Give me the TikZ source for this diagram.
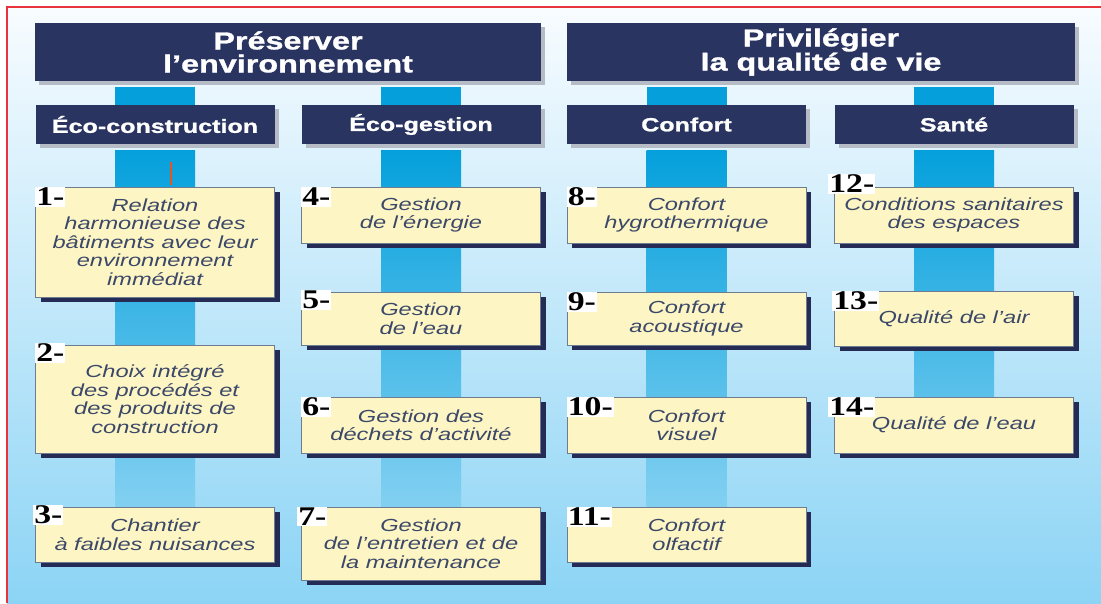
\documentclass[tikz,border=0pt]{standalone}
\usepackage{fontspec}
\usepackage{tikz}
\usetikzlibrary{calc,backgrounds,shadows}
\newfontfamily\widesans[FakeStretch=1.35]{Liberation Sans}
\newfontfamily\heavysans[FakeStretch=1.32,FakeBold=1.2]{Liberation Sans}
\newfontfamily\numserif[FakeStretch=1.25]{Liberation Serif}
\definecolor{headnavy}{HTML}{2A3461}
\definecolor{headshade}{HTML}{B5BCC6}
\definecolor{boxyellow}{HTML}{FDF6C4}
\definecolor{boxedge}{HTML}{6E7B90}
\definecolor{boxshade}{HTML}{242B55}
\definecolor{itemtext}{HTML}{3B4869}
\definecolor{bartop}{HTML}{05A0DC}
\definecolor{barbottom}{HTML}{82D0F1}
\definecolor{barmid}{HTML}{5BC1EA}
\definecolor{skytop}{HTML}{F8FCFF}
\definecolor{skybottom}{HTML}{8CD4F5}
\definecolor{framered}{HTML}{E8333C}
\definecolor{tickorange}{HTML}{E2561F}

\begin{document}
\begin{tikzpicture}[x=1pt, y=-1pt,
  headbox/.style={fill=headnavy, text=white, align=center, inner sep=0pt, minimum height=58pt,
    font=\heavysans\bfseries\fontsize{24.5}{23}\selectfont,
    drop shadow={shadow xshift=4pt, shadow yshift=-4pt, fill=headshade, opacity=1}},
  subbox/.style={fill=headnavy, text=white, inner sep=0pt, minimum width=239pt, minimum height=39pt,
    font=\heavysans\bfseries\fontsize{19}{22}\selectfont,
    drop shadow={shadow xshift=4pt, shadow yshift=-4pt, fill=headshade, opacity=1}},
  itembox/.style={fill=boxyellow, draw=boxedge, line width=0.8pt, text=itemtext, align=center,
    inner sep=0pt, minimum width=239pt, minimum height=56pt,
    font=\widesans\itshape\fontsize{17.5}{18.5}\selectfont,
    drop shadow={shadow xshift=5pt, shadow yshift=-5pt, fill=boxshade, opacity=1}},
  itemnum/.style={anchor=north west, fill=white, inner sep=1pt, text=black,
    font=\numserif\bfseries\fontsize{27}{27}\selectfont},
  barlong/.style={top color=bartop, bottom color=barbottom},
  barshort/.style={top color=bartop, bottom color=barmid}
]
\useasboundingbox (0,0) rectangle (1101,603);
% two main themes
\node[headbox, minimum width=506pt] (env) at (288,52) {Préserver\\l’environnement};
\node[headbox, minimum width=508pt] (life) at (821,52) {Privilégier\\la qualité de vie};
% families
\node[subbox] (ecocon) at (155,124.5) {Éco-construction};
\node[subbox] (ecoges) at (421,124.5) {Éco-gestion};
\node[subbox] (confort) at (686.5,124.5) {Confort};
\node[subbox] (sante) at (954,124.5) {Santé};
% targets, column 1
\node[itembox, minimum height=110pt] (t1) at (155,242) {Relation\\harmonieuse des\\bâtiments avec leur\\environnement\\immédiat};
\node[itembox, minimum height=108pt] (t2) at (155,399) {Choix intégré\\des procédés et\\des produits de\\construction};
\node[itembox, minimum height=55pt] (t3) at (155,534.5) {Chantier\\à faibles nuisances};
% column 2
\node[itembox] (t4) at (421,215) {Gestion\\de l’énergie};
\node[itembox, minimum height=53pt] (t5) at (421,318.5) {Gestion\\de l’eau};
\node[itembox] (t6) at (421,425) {Gestion des\\déchets d’activité};
\node[itembox, minimum height=73pt] (t7) at (421,543.5) {Gestion\\de l’entretien et de\\la maintenance};
% column 3
\node[itembox] (t8) at (686.5,215) {Confort\\hygrothermique};
\node[itembox, minimum height=53pt] (t9) at (686.5,318.5) {Confort\\acoustique};
\node[itembox] (t10) at (686.5,425) {Confort\\visuel};
\node[itembox, minimum height=55pt] (t11) at (686.5,534.5) {Confort\\olfactif};
% column 4
\node[itembox] (t12) at (954,215) {Conditions sanitaires\\des espaces};
\node[itembox, minimum height=55pt] (t13) at (954,318.5) {Qualité de l’air};
\node[itembox] (t14) at (954,425) {Qualité de l’eau};
% numbers
\node[itemnum] (n1) at (t1.north west) {1-};
\node[itemnum, yshift=2pt] (n2) at (t2.north west) {2-};
\node[itemnum, xshift=-2pt, yshift=2pt] (n3) at (t3.north west) {3-};
\node[itemnum] (n4) at (t4.north west) {4-};
\node[itemnum, yshift=2pt] (n5) at (t5.north west) {5-};
\node[itemnum] (n6) at (t6.north west) {6-};
\node[itemnum, xshift=-4pt] (n7) at (t7.north west) {7-};
\node[itemnum] (n8) at (t8.north west) {8-};
\node[itemnum] (n9) at (t9.north west) {9-};
\node[itemnum] (n10) at (t10.north west) {10-};
\node[itemnum] (n11) at (t11.north west) {11-};
\node[itemnum, xshift=-6pt, yshift=13pt] (n12) at (t12.north west) {12-};
\node[itemnum, xshift=-2pt] (n13) at (t13.north west) {13-};
\node[itemnum, xshift=-6pt] (n14) at (t14.north west) {14-};
\begin{scope}[on background layer]
  % sky and frame
  \fill[white] (0,0) rectangle (1101,603);
  \shade[top color=skytop, bottom color=skybottom] (7,7) rectangle (1101,603);
  \draw[framered, line width=1.5pt] (7,603) -- (7,7) -- (1101,7);
  % links theme -> family
  \fill[bartop] ($(ecocon.north)+(-40,0)$) rectangle ($(ecocon.north |- env.south)+(40,6)$);
  \fill[bartop] ($(ecoges.north)+(-40,0)$) rectangle ($(ecoges.north |- env.south)+(40,6)$);
  \fill[bartop] ($(confort.north)+(-40,0)$) rectangle ($(confort.north |- life.south)+(40,6)$);
  \fill[bartop] ($(sante.north)+(-40,0)$) rectangle ($(sante.north |- life.south)+(40,6)$);
  % links family -> targets
  \shade[barlong] ($(ecocon.south)+(-40,6)$) rectangle ($(t3.north)+(40,0)$);
  \shade[barlong] ($(ecoges.south)+(-40,6)$) rectangle ($(t7.north)+(40,0)$);
  \shade[barlong] ($(confort.south)+(-40,6)$) rectangle ($(t11.north)+(40,0)$);
  \shade[barshort] ($(sante.south)+(-40,6)$) rectangle ($(t14.north)+(40,0)$);
  \draw[tickorange, line width=1.5pt] (171,162) -- (171,185);
\end{scope}
\end{tikzpicture}
\end{document}
